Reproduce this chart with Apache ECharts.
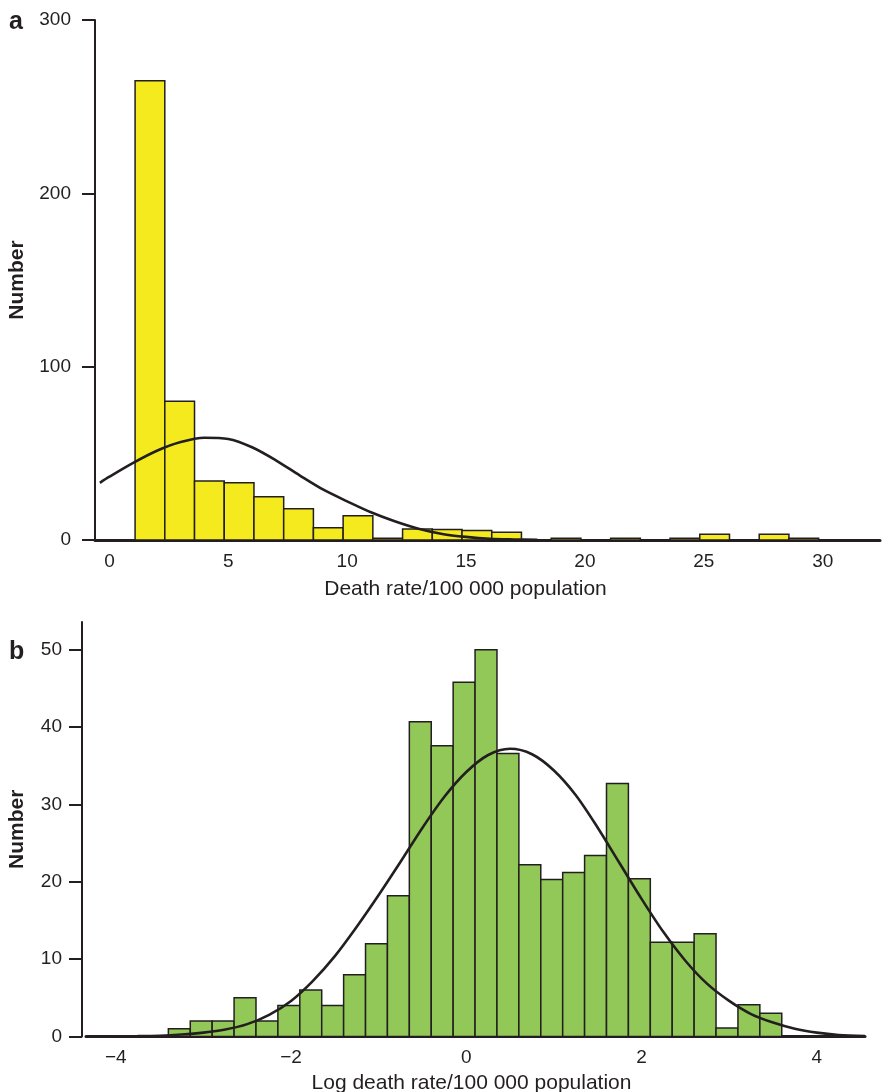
<!DOCTYPE html>
<html>
<head>
<meta charset="utf-8">
<script src="https://cdn.jsdelivr.net/npm/echarts@6/dist/echarts.min.js"></script>
<style>html,body{margin:0;padding:0;background:#fff}#c{width:883px;height:1092px}</style>
</head>
<body>
<div id="c"></div>
<script>
// ---------- Panel a data ----------
const aBinStart = 1.08;
const aBinWidth = 1.25;
const aCounts = [265, 80, 34, 33, 25, 18, 7, 14, 1, 6.3, 6, 5.5, 4.4, 0, 1, 0, 1, 0, 1, 3.3, 0, 3.3, 1];
const aCurveX = [-0.4, 0, 1, 2, 3, 4, 5, 6, 7, 8, 9, 10, 11, 12, 13, 14, 15, 16, 17, 18];
const aCurveY = [33, 36.5, 44.5, 51.5, 56.5, 59, 58.3, 53.5, 46, 37.3, 29, 22.3, 16, 10.8, 6.5, 3.5, 1.8, 0.7, 0.3, 0.1];
const aXTicks = [0, 5, 10, 15, 20, 25, 30];
const aXTickLabels = ['0', '5', '10', '15', '20', '25', '30'];
const aYTicks = [0, 100, 200, 300];

// ---------- Panel b data ----------
const bBinStart = -3.40;
const bBinWidth = 0.25;
const bCounts = [1, 2, 2, 5, 2, 4, 6, 4, 8, 12, 18.2, 40.7, 37.6, 45.8, 50, 36.6, 22.2, 20.3, 21.2, 23.4, 32.7, 20.4, 12.2, 12.2, 13.3, 1.1, 4.1, 3];
const bCurveX = [-4.34, -3.75, -3.5, -3.25, -3.0, -2.75, -2.5, -2.25, -2.0, -1.75, -1.5, -1.25, -1.0, -0.75, -0.5, -0.25, 0, 0.25, 0.5, 0.75, 1.0, 1.25, 1.5, 1.75, 2.0, 2.25, 2.5, 2.75, 3.0, 3.25, 3.5, 3.75, 4.0, 4.25, 4.55];
const bCurveY = [0, 0.05, 0.1, 0.25, 0.5, 0.9, 1.6, 2.8, 4.6, 7.2, 10.4, 14.2, 18.3, 22.6, 27.0, 31.0, 34.2, 36.4, 37.2, 36.5, 34.4, 31.2, 27.0, 22.4, 17.8, 13.5, 9.8, 6.8, 4.6, 2.9, 1.8, 1.0, 0.5, 0.2, 0.05];
const bXTicks = [-4, -2, 0, 2, 4];
const bXTickLabels = ['\u22124', '\u22122', '0', '2', '4'];
const bYTicks = [0, 10, 20, 30, 40, 50];

const INK = '#231f20';
const FONT = '"Liberation Sans", Arial, Helvetica, sans-serif';

function binData(start, width, counts) {
  return counts.map((c, i) => [start + i * width, start + (i + 1) * width, c]);
}
function makeRender(fill) {
  return function (params, api) {
    const p0 = api.coord([api.value(0), api.value(2)]);
    const p1 = api.coord([api.value(1), 0]);
    return {
      type: 'rect',
      shape: { x: p0[0], y: p0[1], width: p1[0] - p0[0], height: p1[1] - p0[1] },
      style: { fill: fill, stroke: INK, lineWidth: 1.5 }
    };
  };
}
function labelMap(vals, labels) {
  const m = {};
  vals.forEach((v, i) => { m[v] = labels[i]; });
  return v => (m[v] !== undefined ? m[v] : '');
}

const chart = echarts.init(document.getElementById('c'), null, { renderer: 'canvas' });
chart.setOption({
  animation: false,
  backgroundColor: '#fff',
  textStyle: { fontFamily: FONT },
  grid: [
    { left: 95, top: 20, width: 785, height: 520, containLabel: false, outerBoundsMode: 'none' },
    { left: 86, top: 622, width: 779, height: 414.5, containLabel: false, outerBoundsMode: 'none' }
  ],
  xAxis: [
    {
      gridIndex: 0, type: 'value', min: -0.606, max: 32.41,
      axisLine: { onZero: false, lineStyle: { color: INK, width: 3 } },
      axisTick: { show: false },
      splitLine: { show: false },
      axisLabel: { customValues: aXTicks, formatter: labelMap(aXTicks, aXTickLabels), color: INK, fontSize: 19, margin: 12, fontFamily: FONT },
      name: 'Death rate/100 000 population', nameLocation: 'middle', nameGap: 39,
      nameTextStyle: { color: INK, fontSize: 21, fontFamily: FONT, padding: [0, 44, 0, 0] }
    },
    {
      gridIndex: 1, type: 'value', min: -4.34, max: 4.55,
      axisLine: { onZero: false, lineStyle: { color: INK, width: 3 } },
      axisTick: { show: false },
      splitLine: { show: false },
      axisLabel: { customValues: bXTicks, formatter: labelMap(bXTicks, bXTickLabels), color: INK, fontSize: 19, margin: 12, fontFamily: FONT },
      name: 'Log death rate/100 000 population', nameLocation: 'middle', nameGap: 36,
      nameTextStyle: { color: INK, fontSize: 21, fontFamily: FONT, padding: [0, 8, 0, 0] }
    }
  ],
  yAxis: [
    {
      gridIndex: 0, type: 'value', min: 0, max: 300, interval: 100,
      axisLine: { show: true, onZero: false, lineStyle: { color: INK, width: 2 } },
      axisTick: { show: true, length: 13, lineStyle: { color: INK, width: 2 } },
      splitLine: { show: false },
      axisLabel: { color: INK, fontSize: 19, margin: 24, fontFamily: FONT },
      name: 'Number', nameLocation: 'middle', nameGap: 67,
      nameTextStyle: { color: INK, fontSize: 21, fontWeight: 'bold', fontFamily: FONT }
    },
    {
      gridIndex: 1, type: 'value', min: 0, max: 53.6, offset: 4,
      axisLine: { show: true, onZero: false, lineStyle: { color: INK, width: 2 } },
      axisTick: { show: true, length: 13, customValues: bYTicks, lineStyle: { color: INK, width: 2 } },
      splitLine: { show: false },
      axisLabel: { customValues: bYTicks, color: INK, fontSize: 19, margin: 20, fontFamily: FONT },
      name: 'Number', nameLocation: 'middle', nameGap: 54,
      nameTextStyle: { color: INK, fontSize: 21, fontWeight: 'bold', fontFamily: FONT }
    }
  ],
  graphic: [
    { type: 'text', left: 9, top: 10, style: { text: 'a', font: 'bold 25px ' + FONT, fill: INK } },
    { type: 'text', left: 9, top: 640, style: { text: 'b', font: 'bold 25px ' + FONT, fill: INK } }
  ],
  series: [
    {
      type: 'custom', xAxisIndex: 0, yAxisIndex: 0,
      renderItem: makeRender('#f4ea1e'),
      encode: { x: [0, 1], y: 2 },
      data: binData(aBinStart, aBinWidth, aCounts), z: 2
    },
    {
      type: 'line', xAxisIndex: 0, yAxisIndex: 0, smooth: 0.3, symbol: 'none',
      lineStyle: { color: INK, width: 2.6 },
      data: aCurveX.map((x, i) => [x, aCurveY[i]]), z: 5
    },
    {
      type: 'custom', xAxisIndex: 1, yAxisIndex: 1,
      renderItem: makeRender('#92c857'),
      encode: { x: [0, 1], y: 2 },
      data: binData(bBinStart, bBinWidth, bCounts), z: 2
    },
    {
      type: 'line', xAxisIndex: 1, yAxisIndex: 1, smooth: 0.3, symbol: 'none',
      lineStyle: { color: INK, width: 2.6 },
      data: bCurveX.map((x, i) => [x, bCurveY[i]]), z: 5
    }
  ]
});
</script>
</body>
</html>
